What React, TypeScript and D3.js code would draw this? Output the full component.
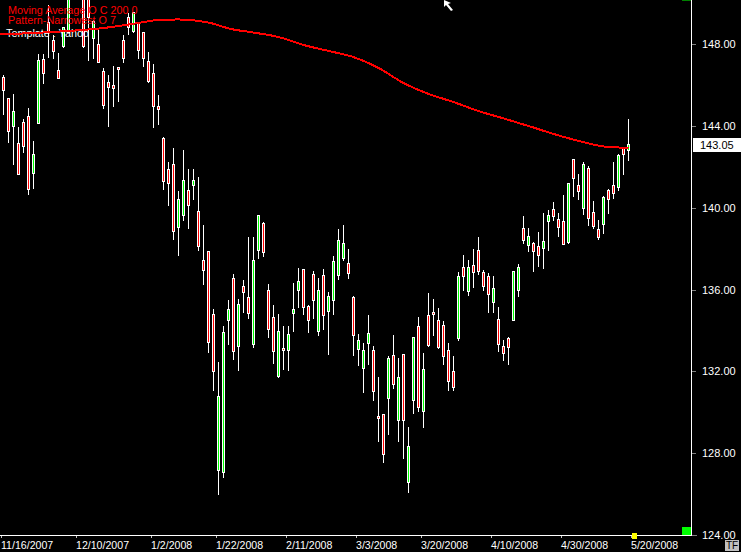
import * as d3 from "d3";
import { useEffect, useRef } from "react";

const opens = [
  146.33, 145.32, 143.97, 143.11, 144.13, 144.43, 141.67, 144.1, 147.21, 149.05,
  148.17, 146.67, 147.88, 148.56, 151.2, 151.2, 150.4, 150.3, 148.24, 147.96,
  146.63, 146.09, 145.96, 146.85, 148.14, 149.27, 148.61, 149.02, 148.55, 147.11,
  146.53, 144.91, 143.35, 141.84, 142.08, 139.03, 139.62, 140.82, 141.07, 139.8,
  137.4, 137.84, 134.76, 127.15, 127.02, 134.44, 136.52, 133.21, 136.12, 135.58,
  133.31, 137.88, 139.2, 135.92, 134.6, 131.75, 133.1, 133.02, 134.81, 135.95,
  136.96, 135.14, 136.7, 133.95, 136.65, 134.92, 135.46, 136.68, 137.5, 137.24,
  135.58, 133.07, 132.14, 133.36, 132.99, 129.78, 129.86, 130.67, 132.74, 129.55,
  132.79, 126.52, 130.57, 134.16, 129.99, 134.7, 134.86, 134.45, 134.21, 132.99,
  131.96, 133.57, 137.05, 135.9, 137.14, 137.88, 136.8, 136.61, 135.36, 134.5,
  133.18, 133.57, 134.48, 135.95, 138.95, 138.15, 138.22, 138.07, 138.0, 139.32,
  139.88, 139.39, 139.29, 138.27, 142.32, 141.05, 139.96, 141.88, 139.73, 138.9,
  139.18, 140.81, 141.05, 140.99, 142.86, 142.78,
];
const highs = [
  146.49, 145.38, 145.57, 143.97, 144.33, 144.87, 143.27, 147.51, 147.51, 149.92,
  148.45, 147.55, 148.84, 150.6, 151.5, 151.5, 150.7, 150.6, 149.18, 148.69,
  146.82, 146.49, 146.93, 146.85, 148.45, 149.51, 149.59, 149.1, 148.61, 147.63,
  147.03, 145.52, 143.45, 142.23, 142.91, 140.82, 142.83, 141.9, 141.9, 141.51,
  139.16, 137.89, 135.06, 132.47, 134.22, 135.5, 136.77, 135.54, 136.47, 138.56,
  138.56, 139.65, 139.29, 136.28, 135.24, 134.8, 134.22, 134.22, 136.31, 137.05,
  137.0, 135.25, 136.91, 136.57, 137.01, 135.87, 137.65, 138.97, 139.16, 137.97,
  135.69, 133.83, 133.38, 134.76, 133.25, 131.72, 129.91, 132.76, 133.79, 132.65,
  132.79, 129.29, 133.67, 134.65, 132.89, 135.82, 135.54, 135.1, 134.47, 133.38,
  132.76, 136.86, 137.68, 137.45, 137.97, 138.58, 136.96, 136.8, 136.67, 135.14,
  133.54, 133.67, 136.9, 137.26, 139.6, 139.0, 138.33, 138.82, 139.75, 139.9,
  140.27, 139.75, 140.63, 141.17, 142.37, 141.64, 142.23, 142.05, 140.33, 139.41,
  140.58, 140.91, 142.24, 142.62, 142.96, 144.34,
];
const lows = [
  144.54, 143.16, 142.09, 141.61, 142.7, 140.63, 140.92, 144.1, 146.05, 147.34,
  147.26, 146.31, 147.83, 148.53, 150.4, 150.4, 147.83, 147.18, 147.26, 147.1,
  144.83, 143.97, 144.94, 145.19, 147.1, 148.45, 148.53, 147.28, 146.9, 146.09,
  143.89, 144.05, 140.87, 140.11, 138.43, 137.66, 139.36, 138.97, 140.38, 137.89,
  136.23, 132.92, 131.06, 125.96, 126.81, 133.3, 132.56, 132.02, 134.87, 134.57,
  133.16, 137.5, 137.61, 133.65, 132.37, 131.7, 132.07, 132.02, 133.93, 135.1,
  134.76, 133.88, 134.57, 133.74, 134.03, 132.81, 134.76, 136.47, 137.4, 136.52,
  132.77, 132.24, 130.96, 132.32, 130.53, 128.57, 127.54, 128.91, 131.16, 128.57,
  127.74, 126.03, 129.94, 130.02, 129.25, 133.21, 133.74, 133.09, 132.32, 131.06,
  131.06, 133.51, 135.95, 135.69, 136.1, 136.72, 135.95, 134.87, 134.87, 132.97,
  132.53, 132.32, 134.48, 135.66, 138.23, 137.84, 136.86, 137.11, 137.01, 137.89,
  139.36, 138.58, 138.18, 138.23, 140.53, 140.38, 139.65, 139.11, 138.97, 138.43,
  138.72, 139.7, 140.43, 140.82, 141.61, 142.29,
];
const closes = [
  145.73, 143.72, 144.67, 141.61, 142.99, 140.87, 142.57, 147.16, 146.56, 148.61,
  147.63, 146.31, 148.79, 150.3, 150.9, 150.9, 147.86, 149.27, 149.1, 147.1,
  144.98, 145.84, 145.82, 146.75, 147.29, 148.78, 149.54, 147.65, 147.26, 146.17,
  144.91, 144.8, 141.25, 141.15, 138.83, 140.37, 141.31, 140.11, 141.31, 138.1,
  136.93, 133.39, 131.99, 130.74, 133.87, 135.0, 132.97, 135.24, 135.85, 134.83,
  137.39, 139.6, 137.78, 134.04, 132.97, 133.92, 133.07, 133.77, 135.0, 136.36,
  135.12, 134.44, 135.46, 135.92, 134.73, 135.63, 137.34, 138.36, 138.22, 136.78,
  133.75, 133.48, 133.0, 133.82, 131.01, 129.65, 127.93, 132.6, 131.33, 131.67,
  129.55, 128.3, 133.62, 130.23, 132.06, 133.26, 134.83, 133.12, 132.72, 131.47,
  131.21, 136.61, 136.63, 137.05, 136.83, 136.88, 136.15, 135.75, 136.02, 133.31,
  132.87, 133.16, 136.85, 137.05, 138.39, 138.56, 137.84, 137.66, 138.32, 139.59,
  139.57, 139.03, 138.2, 141.15, 141.42, 140.79, 142.08, 139.47, 139.08, 138.54,
  140.47, 140.4, 140.69, 142.52, 142.6, 143.05,
];

// 200 day average, read at a handful of bars
const maBars = [-1, 0, 10, 20, 28, 30, 35, 40, 42, 45, 50, 55, 60, 65, 70, 75, 80, 85, 90, 95, 100, 105, 110, 115, 120, 125];
const maValues = [148.5, 148.5, 148.6, 148.79, 149.08, 149.16, 149.21, 149.1, 149.0, 148.77, 148.57, 148.35, 147.96, 147.67, 147.37, 146.84, 146.1, 145.57, 145.17, 144.73, 144.37, 144.0, 143.61, 143.27, 143.0, 142.93];

const priceTicks = [124, 128, 132, 136, 140, 144, 148];
const dateTickBars = [0, 15, 30, 43, 57, 71, 84, 98, 112, 126];
const dateTickLabels = ["11/16/2007", "12/10/2007", "1/2/2008", "1/22/2008", "2/11/2008", "3/3/2008", "3/20/2008", "4/10/2008", "4/30/2008", "5/20/2008"];
const lastPrice = 143.05;

const width = 741;
const height = 552;
const font = "'Liberation Sans', Arial, sans-serif";

export default function App() {
  const ref = useRef<SVGSVGElement>(null);

  useEffect(() => {
    if (!ref.current) return;
    const svg = d3.select(ref.current);
    svg.selectAll("*").remove();

    const x = d3.scaleLinear().domain([0, 125]).range([3.5, 628.5]);
    const y = d3.scaleLinear().domain([124, 150.16]).range([535, 0]);
    const rightEdge = 691;

    svg.append("rect").attr("width", width).attr("height", height).attr("fill", "#000");

    const bars = d3.range(opens.length);

    // Wicks
    svg.append("g")
      .attr("shape-rendering", "crispEdges")
      .selectAll("line")
      .data(bars)
      .enter()
      .append("line")
      .attr("x1", i => x(i))
      .attr("x2", i => x(i))
      .attr("y1", i => y(highs[i]))
      .attr("y2", i => y(lows[i]))
      .attr("stroke", "#fff");

    // Bodies, white frame with a coloured core
    const bodies = svg.append("g").attr("shape-rendering", "crispEdges");
    const top = (i: number) => Math.round(y(Math.max(opens[i], closes[i])));
    const bottom = (i: number) => Math.max(Math.round(y(Math.min(opens[i], closes[i]))), top(i) + 2);
    bodies.selectAll("rect.frame")
      .data(bars)
      .enter()
      .append("rect")
      .attr("class", "frame")
      .attr("x", i => x(i) - 1.5)
      .attr("width", 3)
      .attr("y", i => top(i) - 1)
      .attr("height", i => bottom(i) - top(i) + 1)
      .attr("fill", "#fff");
    bodies.selectAll("rect.core")
      .data(bars)
      .enter()
      .append("rect")
      .attr("class", "core")
      .attr("x", i => x(i) - 0.5)
      .attr("width", 1)
      .attr("y", i => top(i))
      .attr("height", i => bottom(i) - top(i) - 1)
      .attr("fill", i => (closes[i] >= opens[i] ? "#00ff00" : "#ff0000"));

    // Legend
    const legend = svg.append("g").attr("font-family", font).attr("font-size", 10.8);
    legend.append("text").attr("x", 8).attr("y", 13.5).attr("fill", "#f00").text("Moving Average O C 200 0");
    legend.append("text").attr("x", 8).attr("y", 23.5).attr("fill", "#f00").text("Pattern-Narrowest O 7");
    legend.append("text").attr("x", 6).attr("y", 37).attr("fill", "#fff").text("Template : Yahoo");

    // Moving average
    const maLine = d3.line<number>()
      .x(d => x(d))
      .y((_, i) => y(maValues[i]))
      .curve(d3.curveMonotoneX);
    svg.append("path")
      .datum(maBars)
      .attr("fill", "none")
      .attr("stroke", "#f00")
      .attr("stroke-width", 2)
      .attr("shape-rendering", "crispEdges")
      .attr("d", maLine);

    // Price axis
    const yAxis = svg.append("g")
      .attr("transform", `translate(${rightEdge},0)`)
      .call(
        d3.axisRight(y)
          .tickValues(priceTicks)
          .tickFormat(d3.format(".2f") as any)
          .tickSize(5)
          .tickSizeOuter(0)
          .tickPadding(6)
      );
    yAxis.select(".domain").remove();
    yAxis.selectAll(".tick line").attr("stroke", "#808080").attr("shape-rendering", "crispEdges");
    yAxis.selectAll(".tick text").attr("fill", "#fff").attr("font-family", font).attr("font-size", 11);

    // Date axis, ticks sit just left of their bar
    const xTicks = x.copy().range([0.5, 625.5]);
    const xAxis = svg.append("g")
      .attr("transform", "translate(0,535)")
      .call(
        d3.axisBottom(xTicks)
          .tickValues(dateTickBars)
          .tickFormat((_, i) => dateTickLabels[i])
          .tickSize(3)
          .tickSizeOuter(0)
      );
    xAxis.select(".domain").remove();
    xAxis.selectAll(".tick line").attr("stroke", "#c0c0c0").attr("shape-rendering", "crispEdges");
    xAxis.selectAll(".tick text")
      .attr("fill", "#fff")
      .attr("font-family", font)
      .attr("font-size", 10.6)
      .attr("text-anchor", "start")
      .attr("x", 0)
      .attr("y", 14)
      .attr("dy", 0);

    // Frame lines
    const frame = svg.append("g").attr("shape-rendering", "crispEdges");
    frame.append("rect").attr("x", 0).attr("y", 535).attr("width", rightEdge).attr("height", 1).attr("fill", "#fff");
    frame.append("rect").attr("x", rightEdge).attr("y", 535).attr("width", 6).attr("height", 1).attr("fill", "#808080");
    frame.append("rect").attr("x", rightEdge).attr("y", 0).attr("width", 1).attr("height", 536).attr("fill", "#fff");
    frame.append("rect").attr("x", 682).attr("y", 527).attr("width", 9).attr("height", 8).attr("fill", "#00ff00");
    frame.append("rect").attr("x", 682).attr("y", 0).attr("width", 9).attr("height", 1).attr("fill", "#008000");
    frame.append("rect").attr("x", xTicks(126) + 1).attr("y", 533).attr("width", 5).attr("height", 6).attr("fill", "#ffff00");

    // Last price flag
    svg.append("rect")
      .attr("x", 693)
      .attr("y", Math.round(y(lastPrice)) - 7)
      .attr("width", 48)
      .attr("height", 14)
      .attr("fill", "#fff")
      .attr("shape-rendering", "crispEdges");
    svg.append("text")
      .attr("x", 700)
      .attr("y", Math.round(y(lastPrice)) + 4)
      .attr("fill", "#000")
      .attr("font-family", font)
      .attr("font-size", 11)
      .text(d3.format(".2f")(lastPrice));

    // TF button
    svg.append("rect")
      .attr("x", 725)
      .attr("y", 540)
      .attr("width", 14)
      .attr("height", 11)
      .attr("fill", "#c0c0c0")
      .attr("shape-rendering", "crispEdges");
    svg.append("text")
      .attr("x", 732)
      .attr("y", 549)
      .attr("text-anchor", "middle")
      .attr("fill", "#000")
      .attr("font-family", font)
      .attr("font-size", 10)
      .text("TF");

    // Mouse pointer caught in the screenshot
    svg.append("path")
      .attr("d", "M444,0 L444,7 L446,5 L451,11 L453,10 L448,4 L451,3 Z")
      .attr("fill", "#fff");
  }, []);

  return (
    <svg
      ref={ref}
      width={width}
      height={height}
      style={{ display: "block", position: "fixed", left: 0, top: 0 }}
    />
  );
}
